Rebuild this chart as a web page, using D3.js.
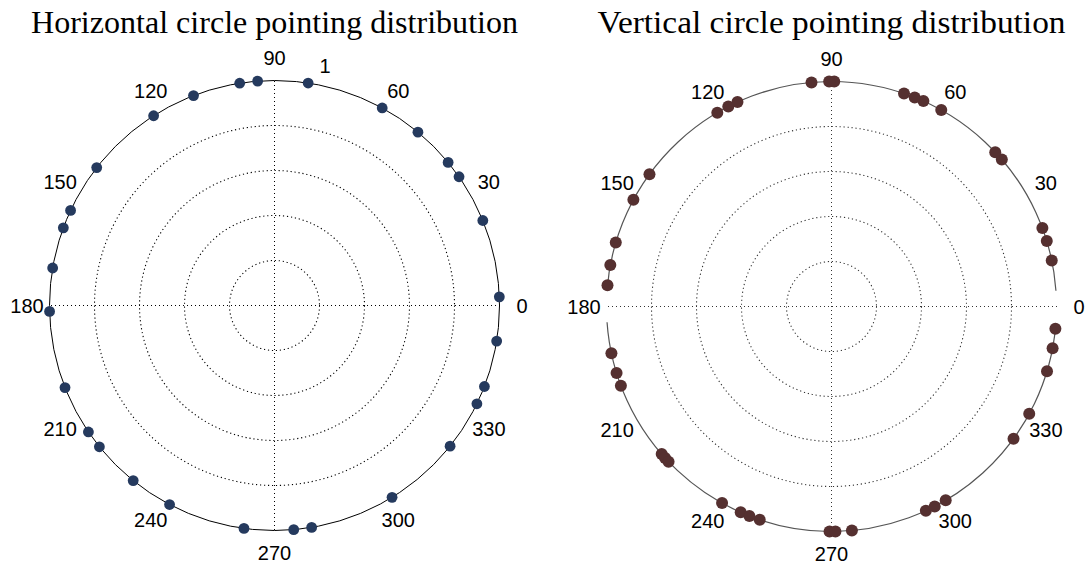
<!DOCTYPE html>
<html>
<head>
<meta charset="utf-8">
<script src="https://cdn.jsdelivr.net/npm/d3@7"></script>
<style>
  html, body { margin: 0; padding: 0; background: #fff; }
  svg { display: block; }
</style>
</head>
<body>
<svg id="chart" width="1088" height="563"></svg>
<script>
// ---- data (degrees, radius normalised to 1) ----
const titles = ["Horizontal circle pointing distribution", "Vertical circle pointing distribution"];
const horizontalAngles = [2.2, 22.2, 34.9, 39.5, 50.4, 61.4, 81.4, 94.3, 98.9, 111.1, 122.5, 142.2,
  155.0, 159.8, 170.4, 181.5, 201.4, 214.2, 218.9, 231.1, 242.2, 262.2, 274.9, 279.5, 301.5,
  321.3, 334.1, 338.9, 350.9];
const verticalAngles = [11.8, 16.9, 20.4, 40.8, 43.3, 60.8, 65.9, 68.3, 71.2, 89.3, 90.6, 95.1,
  114.7, 117.3, 120.5, 144.0, 151.7, 163.5, 169.4, 174.6, 192.0, 197.2, 200.6, 221.0, 222.3,
  223.6, 240.9, 246.2, 248.6, 251.4, 269.5, 271.0, 275.2, 294.8, 297.3, 300.5, 324.0, 331.5,
  343.3, 349.3, 354.3];
const pointRadius = 1;
const angleTicks = [0, 30, 60, 90, 120, 150, 180, 210, 240, 270, 300, 330];
const gridRings = [0.2, 0.4, 0.6, 0.8];
const spokeAngles = [0, 90];
const radialTickLabel = ["1"];
const verticalArcs = [[4, 176], [184, 355]];

// ---- layout ----
const svg = d3.select("#chart");
const R = 225;
const rScale = d3.scaleLinear().domain([0, 1]).range([0, R]);
const toRad = d => d * Math.PI / 180;

const panels = [
  { cx: 274.5, cy: 305.5, title: titles[0], titleLen: 487, angles: horizontalAngles, color: "#253a5e", mr: 5.4,
    lineColor: "#000", gridColor: "#000", full: true, rlabel: true },
  { cx: 831.5, cy: 306.5, title: titles[1], titleLen: 468, angles: verticalAngles, color: "#553030", mr: 6,
    lineColor: "#555", gridColor: "#333", full: false, rlabel: false }
];

panels.forEach(p => {
  const g = svg.append("g").attr("transform", `translate(${p.cx},${p.cy})`);
  const px = (a, r) => rScale(r) * Math.cos(toRad(a));
  const py = (a, r) => -rScale(r) * Math.sin(toRad(a));

  // grid rings
  g.selectAll("circle.ring").data(gridRings).join("circle")
    .attr("class", "ring").attr("r", d => rScale(d))
    .attr("fill", "none").attr("stroke", p.gridColor).attr("stroke-width", 1.1)
    .attr("stroke-dasharray", "1.2,2.8");

  // spokes (full diameter)
  g.selectAll("line.spoke").data(spokeAngles).join("line")
    .attr("class", "spoke")
    .attr("x1", d => px(d, 1)).attr("y1", d => py(d, 1))
    .attr("x2", d => px(d + 180, 1)).attr("y2", d => py(d + 180, 1))
    .attr("stroke", p.gridColor).attr("stroke-width", 1)
    .attr("shape-rendering", "crispEdges")
    .attr("stroke-dasharray", "1,3");

  // outer line
  if (p.full) {
    g.append("circle").attr("r", rScale(pointRadius))
      .attr("fill", "none").attr("stroke", p.lineColor).attr("stroke-width", 1);
  } else {
    const arc = d3.arc().innerRadius(rScale(pointRadius)).outerRadius(rScale(pointRadius));
    g.selectAll("path.arc").data(verticalArcs).join("path")
      .attr("class", "arc")
      .attr("d", d => arc({ startAngle: toRad(90 - d[1]), endAngle: toRad(90 - d[0]) }))
      .attr("fill", "none").attr("stroke", p.lineColor).attr("stroke-width", 1.2);
  }

  // angle labels
  g.selectAll("text.tick").data(angleTicks).join("text")
    .attr("class", "tick")
    .attr("x", d => px(d, 1.1)).attr("y", d => py(d, 1.1))
    .attr("text-anchor", "middle").attr("dominant-baseline", "central")
    .attr("font-family", "'Liberation Sans', Arial, sans-serif")
    .attr("font-size", 20).attr("fill", "#000")
    .text(d => d);

  if (p.rlabel) {
    g.selectAll("text.rlab").data(radialTickLabel).join("text")
      .attr("class", "rlab")
      .attr("x", px(82, 1.05) + 12).attr("y", py(82, 1.05) + 1)
      .attr("text-anchor", "start")
      .attr("font-family", "'Liberation Sans', Arial, sans-serif")
      .attr("font-size", 20).attr("fill", "#000")
      .text(d => d);
  }

  // markers
  g.selectAll("circle.pt").data(p.angles).join("circle")
    .attr("class", "pt")
    .attr("cx", d => px(d, pointRadius)).attr("cy", d => py(d, pointRadius))
    .attr("r", p.mr).attr("fill", p.color);

  // title
  svg.append("text")
    .attr("x", p.cx).attr("y", 33)
    .attr("text-anchor", "middle")
    .attr("font-family", "'Liberation Serif', 'Times New Roman', serif")
    .attr("font-size", 32).attr("fill", "#000")
    .attr("textLength", p.titleLen).attr("lengthAdjust", "spacingAndGlyphs")
    .text(p.title);
});
</script>
</body>
</html>
